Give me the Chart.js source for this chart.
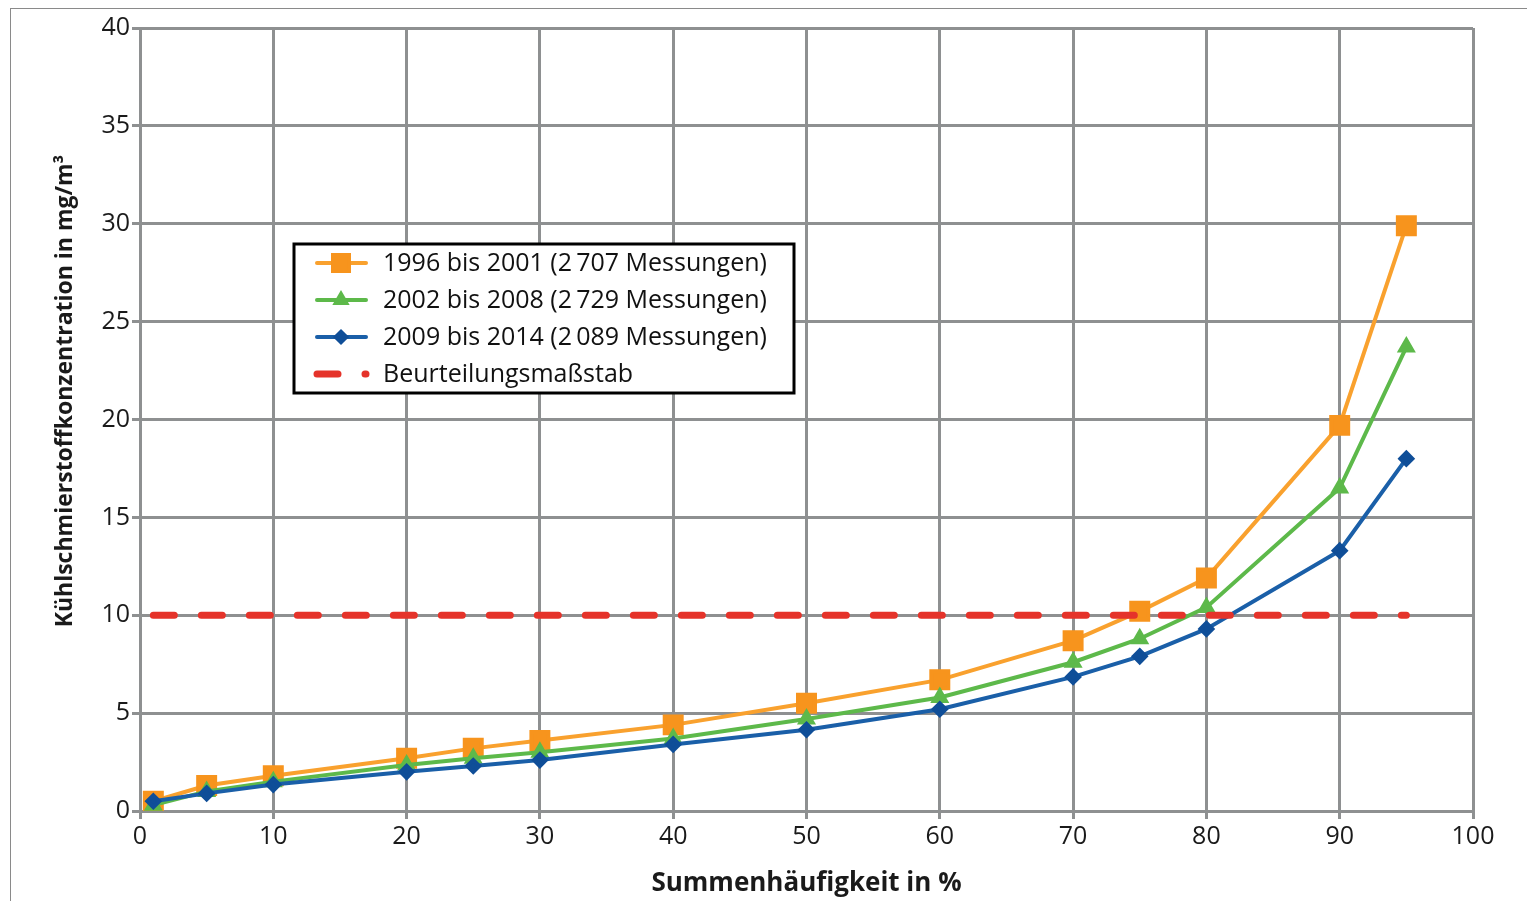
<!DOCTYPE html>
<html>
<head>
<meta charset="utf-8">
<script src="https://cdn.jsdelivr.net/npm/chart.js@4.4.1/dist/chart.umd.min.js"></script>
<style>
  body { margin: 0; background: #fff; overflow: hidden; }
  #wrap { position: relative; width: 1527px; height: 901px; }
  #frame { position: absolute; left: 10px; top: 8px; width: 1600px; height: 1000px; border: 1.5px solid #8a8a8a; }
  canvas { position: absolute; left: 0; top: 0; }
</style>
</head>
<body>
<div id="wrap">
  <div id="frame"></div>
  <canvas id="chart" width="1527" height="901"></canvas>
</div>
<script>
// x positions (Summenhäufigkeit in %)
const percentiles = [1, 5, 10, 20, 25, 30, 40, 50, 60, 70, 75, 80, 90, 95];

// Kühlschmierstoffkonzentration in mg/m³
const series1996 = [0.5, 1.3, 1.8, 2.7, 3.2, 3.6, 4.4, 5.5, 6.7, 8.7, 10.2, 11.9, 19.7, 29.9];
const series2002 = [0.3, 1.0, 1.5, 2.35, 2.7, 3.0, 3.7, 4.7, 5.8, 7.6, 8.8, 10.4, 16.5, 23.7];
const series2009 = [0.5, 0.9, 1.35, 2.0, 2.3, 2.6, 3.4, 4.15, 5.2, 6.85, 7.9, 9.3, 13.3, 18.0];

const limitX = [1, 95];
const limitY = [10, 10];

const labels = [
  '1996 bis 2001 (2\u2009707 Messungen)',
  '2002 bis 2008 (2\u2009729 Messungen)',
  '2009 bis 2014 (2\u2009089 Messungen)',
  'Beurteilungsmaßstab'
];

const yTicks = [0, 5, 10, 15, 20, 25, 30, 35, 40];
const xTicks = [0, 10, 20, 30, 40, 50, 60, 70, 80, 90, 100];

const yTitle = 'Kühlschmierstoffkonzentration in mg/m³';

const FONT = '"Open Sans", "Noto Sans", sans-serif';
const GRID = '#8e9091';

function toPoints(xs, ys) {
  return xs.map((x, i) => ({ x: x, y: ys[i] }));
}

// legend drawn inside the plot, like the original
const boxLegend = {
  id: 'boxLegend',
  afterDraw(chart) {
    const ctx = chart.ctx;
    const left = 294, top = 244, w = 500, h = 149;
    ctx.save();
    ctx.fillStyle = '#fff';
    ctx.fillRect(left, top, w, h);
    ctx.lineWidth = 3;
    ctx.strokeStyle = '#000';
    ctx.strokeRect(left, top, w, h);

    chart.data.datasets.forEach((ds, i) => {
      const y = top + 19 + i * 37;
      ctx.save();
      ctx.strokeStyle = ds.borderColor;
      ctx.lineWidth = ds.borderWidth;
      ctx.lineCap = 'round';
      if (ds.borderDash) ctx.setLineDash(ds.borderDash);
      ctx.beginPath();
      ctx.moveTo(317, y);
      ctx.lineTo(366, y);
      ctx.stroke();
      ctx.restore();
      if (ds.pointRadius > 0) {
        ctx.fillStyle = ds.pointBackgroundColor;
        ctx.strokeStyle = ds.pointBorderColor;
        Chart.helpers.drawPoint(ctx, {
          pointStyle: ds.pointStyle,
          radius: ds.pointRadius,
          borderWidth: 1,
          rotation: 0
        }, 341, y);
      }
      ctx.fillStyle = '#111';
      ctx.font = '25px ' + FONT;
      ctx.textBaseline = 'middle';
      ctx.textAlign = 'left';
      ctx.fillText(labels[i], 383, y + 1);
    });
    ctx.restore();
  }
};

// y-axis title, placed where the original has it
const yAxisTitle = {
  id: 'yAxisTitle',
  afterDraw(chart) {
    const ctx = chart.ctx;
    ctx.save();
    ctx.translate(65, 391);
    ctx.rotate(-Math.PI / 2);
    ctx.fillStyle = '#1a1a1a';
    ctx.font = 'bold 23px ' + FONT;
    ctx.textAlign = 'center';
    ctx.textBaseline = 'middle';
    ctx.fillText(yTitle, 0, 0);
    ctx.restore();
  }
};

new Chart(document.getElementById('chart'), {
  type: 'line',
  data: {
    datasets: [
      {
        label: labels[0],
        data: toPoints(percentiles, series1996),
        borderColor: '#f9a12e',
        backgroundColor: '#f7941d',
        pointBackgroundColor: '#f7941d',
        pointBorderColor: '#f7941d',
        pointStyle: 'rect',
        pointRadius: 12,
        borderWidth: 4,
        order: 4
      },
      {
        label: labels[1],
        data: toPoints(percentiles, series2002),
        borderColor: '#5db94a',
        backgroundColor: '#5db94a',
        pointBackgroundColor: '#5db94a',
        pointBorderColor: '#5db94a',
        pointStyle: 'triangle',
        pointRadius: 7,
        borderWidth: 4,
        order: 3
      },
      {
        label: labels[2],
        data: toPoints(percentiles, series2009),
        borderColor: '#1a5fa8',
        backgroundColor: '#0f4e98',
        pointBackgroundColor: '#0f4e98',
        pointBorderColor: '#0f4e98',
        pointStyle: 'rectRot',
        pointRadius: 6,
        borderWidth: 4,
        order: 2
      },
      {
        label: labels[3],
        data: toPoints(limitX, limitY),
        borderColor: '#e5332a',
        borderWidth: 7,
        borderDash: [21, 27],
        borderCapStyle: 'round',
        pointRadius: 0,
        order: 1
      }
    ]
  },
  options: {
    responsive: false,
    animation: false,
    layout: { padding: { left: 47, top: 28, right: 54, bottom: 2 } },
    plugins: {
      legend: { display: false },
      tooltip: { enabled: false }
    },
    elements: { line: { tension: 0 } },
    scales: {
      x: {
        type: 'linear',
        min: 0,
        max: 100,
        afterBuildTicks: (scale) => { scale.ticks = xTicks.map(v => ({ value: v })); },
        afterFit: (scale) => { scale.height = 88; },
        ticks: { color: '#1a1a1a', font: { family: FONT, size: 25 }, padding: 3, maxRotation: 0 },
        grid: { color: GRID, lineWidth: 3, tickLength: 8, tickColor: GRID },
        border: { color: GRID, width: 3 },
        title: {
          display: true,
          text: 'Summenhäufigkeit in %',
          color: '#1a1a1a',
          font: { family: FONT, size: 26, weight: 'bold' },
          padding: { top: 4, bottom: 0 }
        }
      },
      y: {
        min: 0,
        max: 40,
        afterBuildTicks: (scale) => { scale.ticks = yTicks.map(v => ({ value: v })); },
        afterFit: (scale) => { scale.width = 93; },
        ticks: { color: '#1a1a1a', font: { family: FONT, size: 25 }, padding: 2 },
        grid: { color: GRID, lineWidth: 3, tickLength: 8, tickColor: GRID },
        border: { color: GRID, width: 3 }
      }
    }
  },
  plugins: [boxLegend, yAxisTitle]
});
</script>
</body>
</html>
